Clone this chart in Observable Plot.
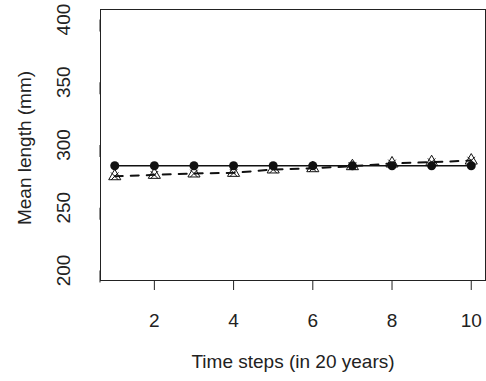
<!DOCTYPE html>
<html><head><meta charset="utf-8">
<script src="https://cdn.jsdelivr.net/npm/d3@7"></script>
<script src="https://cdn.jsdelivr.net/npm/@observablehq/plot@0.6"></script>
<style>body{margin:0;background:#fff}</style>
</head><body><div id="chart"></div>
<script>
const steps = [1,2,3,4,5,6,7,8,9,10];
const constantLength = [283.5,283.5,283.5,283.5,283.5,283.5,283.5,283.5,283.5,283.5];
const changingLength = [275.1,276.2,277.3,277.8,280.5,281.5,283.1,285.3,286.3,287.6];
const xTicks = [2,4,6,8,10];
const yTicks = [200,250,300,350,400];
const xTitle = "Time steps (in 20 years)";
const yTitle = "Mean length (mm)";

const solid = steps.map((s,i)=>({x:s,y:constantLength[i]}));
const dashed = steps.map((s,i)=>({x:s,y:changingLength[i]}));
const font = "Liberation Sans, Arial, sans-serif";

const plot = Plot.plot({
  width: 486, height: 381,
  marginLeft: 100, marginRight: 1, marginTop: 9, marginBottom: 101,
  style: {fontFamily: font, fontSize: "19px", color: "#222", background: "#fff"},
  x: {domain: [0.64, 10.36]},
  y: {domain: [192, 408]},
  marks: [
    Plot.frame({stroke: "#222"}),
    Plot.axisX({ticks: xTicks, tickSize: 10, tickPadding: 23, label: null, fontSize: 19, stroke: "#222"}),
    Plot.axisY({ticks: yTicks, tickSize: 12, tickPadding: 25, label: null, fontSize: 19, rotate: -90, textAnchor: "middle", stroke: "#222"}),
    Plot.line(dashed, {x: "x", y: "y", stroke: "#111", strokeWidth: 2, strokeDasharray: "8,8"}),
    Plot.line(solid, {x: "x", y: "y", stroke: "#111", strokeWidth: 1.5}),
    Plot.dot(solid, {x: "x", y: "y", r: 4.5, fill: "#111", stroke: "none"}),
    Plot.dot(dashed, {x: "x", y: "y", r: 4.5, symbol: "triangle", stroke: "#111", fill: "none", strokeWidth: 1}),
    Plot.dot(dashed, {x: "x", y: "y", r: 3.5, symbol: "times", stroke: "#111", strokeWidth: 1}),
    Plot.text([xTitle], {frameAnchor: "bottom", dy: 87, fontSize: 19, fill: "#222"}),
    Plot.text([yTitle], {frameAnchor: "left", dx: -76, dy: 3, rotate: -90, textAnchor: "middle", fontSize: 19, fill: "#222"})
  ]
});
document.getElementById("chart").appendChild(plot);
</script>
</body></html>
